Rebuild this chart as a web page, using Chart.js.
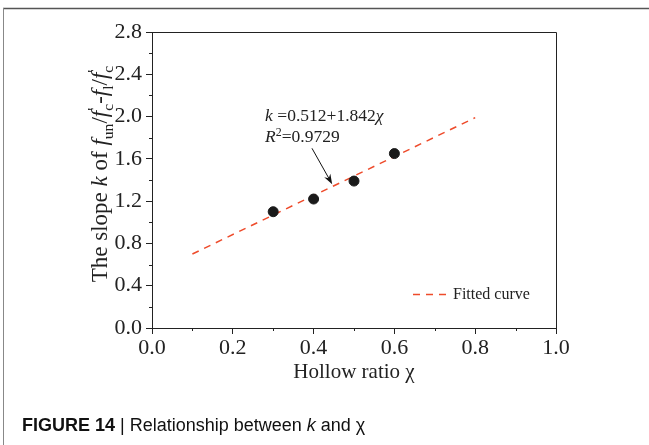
<!DOCTYPE html>
<html>
<head>
  <title>Relationship between k and hollow ratio</title>
  <script src="https://cdn.jsdelivr.net/npm/chart.js"></script>
  <style>
    body { margin: 0; background: #fff; }
    canvas { display: block; }
  </style>
</head>
<body>
  <canvas id="kChart" width="649" height="445"></canvas>

  <script>
    // measured points (hollow ratio vs slope k)
    const hollowRatio = [0.3, 0.4, 0.5, 0.6];
    const slopeK = [1.10, 1.22, 1.39, 1.65];

    // fitted line end points
    const fitX = [0.1, 0.8];
    const fitK = [0.70, 1.99];

    const xMin = 0, xMax = 1.0, xStep = 0.2;
    const yMin = 0, yMax = 2.8, yStep = 0.4;

    const legendLabel = "Fitted curve";
    const xTitle = "Hollow ratio \u03c7";
    const fitColor = "#ee4b2b";
    const serif = "'Liberation Serif', 'Times New Roman', serif";

    // mixed text helpers (italic / sub / sup parts); "keep" = don't advance x
    function segFont(s, size) {
      const sz = (s.sub || s.sup) ? size * 0.68 : size;
      return (s.it ? "italic " : "") + sz + "px " + serif;
    }

    function richWidth(ctx, segs, size) {
      let w = 0;
      segs.forEach(s => {
        ctx.font = segFont(s, size);
        if (!s.keep) w += ctx.measureText(s.t).width;
      });
      return w;
    }

    function drawRich(ctx, segs, x, y, size) {
      let cx = x;
      segs.forEach(s => {
        ctx.font = segFont(s, size);
        let dy = 0;
        if (s.sub) dy = size * 0.25;
        if (s.sup) dy = -size * 0.38;
        ctx.fillText(s.t, cx, y + dy);
        if (!s.keep) cx += ctx.measureText(s.t).width;
      });
    }

    const yTitleSegs = [
      { t: "The slope " }, { t: "k", it: true }, { t: " of " },
      { t: "f", it: true }, { t: "un", sub: true }, { t: "/" },
      { t: "f", it: true }, { t: "'", sup: true, keep: true }, { t: "c", sub: true }, { t: "-" },
      { t: "f", it: true }, { t: "l", sub: true }, { t: "/" },
      { t: "f", it: true }, { t: "'", sup: true, keep: true }, { t: "c", sub: true }
    ];
    const eqSegs = [
      { t: "k", it: true }, { t: " =0.512+1.842" }, { t: "\u03c7", it: true }
    ];
    const r2Segs = [
      { t: "R", it: true }, { t: "2", sup: true }, { t: "=0.9729" }
    ];

    const extras = {
      id: "extras",
      afterDraw(chart) {
        const ctx = chart.ctx;
        const a = chart.chartArea;
        const xs = chart.scales.x, ys = chart.scales.y;
        ctx.save();

        // figure frame (top and left rule)
        ctx.strokeStyle = "#555";
        ctx.lineWidth = 1.5;
        ctx.beginPath();
        ctx.moveTo(3, 8.5); ctx.lineTo(649, 8.5);
        ctx.stroke();
        ctx.lineWidth = 1;
        ctx.strokeStyle = "#888";
        ctx.beginPath();
        ctx.moveTo(3.5, 8); ctx.lineTo(3.5, 445);
        ctx.stroke();

        // top and right edges of the plot box
        ctx.strokeStyle = "#222";
        ctx.lineWidth = 1;
        ctx.beginPath();
        ctx.moveTo(a.left, a.top + 0.5); ctx.lineTo(a.right + 0.5, a.top + 0.5);
        ctx.lineTo(a.right + 0.5, a.bottom);
        ctx.stroke();

        // minor ticks
        ctx.beginPath();
        for (let v = xMin + xStep / 2; v < xMax; v += xStep) {
          const px = Math.round(xs.getPixelForValue(v)) + 0.5;
          ctx.moveTo(px, a.bottom); ctx.lineTo(px, a.bottom + 3);
        }
        for (let v = yMin + yStep / 2; v < yMax; v += yStep) {
          const py = Math.round(ys.getPixelForValue(v)) + 0.5;
          ctx.moveTo(a.left, py); ctx.lineTo(a.left - 3, py);
        }
        ctx.stroke();

        // axis titles
        ctx.fillStyle = "#222";
        ctx.textBaseline = "alphabetic";
        ctx.font = "21px " + serif;
        ctx.textAlign = "center";
        ctx.fillText(xTitle, (a.left + a.right) / 2, 378);

        ctx.textAlign = "left";
        ctx.save();
        ctx.translate(107, 174);
        ctx.rotate(-Math.PI / 2);
        const tw = richWidth(ctx, yTitleSegs, 23);
        drawRich(ctx, yTitleSegs, -tw / 2, 0, 23);
        ctx.restore();

        // equation annotation
        const ex = xs.getPixelForValue(0.28);
        drawRich(ctx, eqSegs, ex, ys.getPixelForValue(1.96), 17.5);
        drawRich(ctx, r2Segs, ex, ys.getPixelForValue(1.755), 17.5);

        // arrow to the fitted line
        const x1 = xs.getPixelForValue(0.396), y1 = ys.getPixelForValue(1.70);
        const x2 = xs.getPixelForValue(0.446), y2 = ys.getPixelForValue(1.36);
        const ang = Math.atan2(y2 - y1, x2 - x1);
        ctx.strokeStyle = "#111";
        ctx.lineWidth = 1;
        ctx.beginPath();
        ctx.moveTo(x1, y1); ctx.lineTo(x2 - 6 * Math.cos(ang), y2 - 6 * Math.sin(ang));
        ctx.stroke();
        ctx.fillStyle = "#111";
        ctx.beginPath();
        ctx.moveTo(x2, y2);
        ctx.lineTo(x2 - 10 * Math.cos(ang) + 3.5 * Math.sin(ang), y2 - 10 * Math.sin(ang) - 3.5 * Math.cos(ang));
        ctx.lineTo(x2 - 7 * Math.cos(ang), y2 - 7 * Math.sin(ang));
        ctx.lineTo(x2 - 10 * Math.cos(ang) - 3.5 * Math.sin(ang), y2 - 10 * Math.sin(ang) + 3.5 * Math.cos(ang));
        ctx.closePath();
        ctx.fill();

        // legend inside the plot
        const ly = 294.5;
        ctx.strokeStyle = fitColor;
        ctx.lineWidth = 1.5;
        ctx.setLineDash([7, 6]);
        ctx.beginPath();
        ctx.moveTo(413, ly); ctx.lineTo(449, ly);
        ctx.stroke();
        ctx.setLineDash([]);
        ctx.fillStyle = "#222";
        ctx.font = "16px " + serif;
        ctx.textBaseline = "middle";
        ctx.fillText(legendLabel, 453, ly);

        // caption
        ctx.textBaseline = "alphabetic";
        ctx.fillStyle = "#111";
        const sans = "'Liberation Sans', Arial, sans-serif";
        let cx = 22;
        const cy = 431;
        ctx.font = "bold 18px " + sans;
        ctx.fillText("FIGURE 14", cx, cy);
        cx += ctx.measureText("FIGURE 14").width;
        ctx.font = "18px " + sans;
        ctx.fillText(" | Relationship between ", cx, cy);
        cx += ctx.measureText(" | Relationship between ").width;
        ctx.font = "italic 18px " + sans;
        ctx.fillText("k", cx, cy);
        cx += ctx.measureText("k").width;
        ctx.font = "18px " + sans;
        ctx.fillText(" and \u03c7", cx, cy);

        ctx.restore();
      }
    };

    const chart = new Chart(document.getElementById("kChart"), {
      type: "scatter",
      data: {
        datasets: [
          {
            label: legendLabel,
            data: fitX.map((x, i) => ({ x, y: fitK[i] })),
            showLine: true,
            borderColor: fitColor,
            borderWidth: 1.5,
            borderDash: [7, 6],
            pointRadius: 0,
            order: 2
          },
          {
            label: "Test",
            data: hollowRatio.map((x, i) => ({ x, y: slopeK[i] })),
            pointRadius: 5,
            pointBackgroundColor: "#1a1a1a",
            pointBorderColor: "#1a1a1a",
            order: 1
          }
        ]
      },
      options: {
        responsive: false,
        animation: false,
        layout: { padding: { left: 0, top: 32, right: 93, bottom: 0 } },
        plugins: {
          legend: { display: false },
          tooltip: { enabled: false }
        },
        scales: {
          x: {
            type: "linear",
            min: xMin, max: xMax,
            afterFit(s) { s.height = 117; },
            border: { display: true, color: "#222", width: 1 },
            grid: { drawOnChartArea: false, tickLength: 6, color: "#222" },
            ticks: {
              stepSize: xStep,
              padding: 1,
              color: "#222",
              font: { family: serif, size: 22 },
              callback: v => v.toFixed(1)
            }
          },
          y: {
            min: yMin, max: yMax,
            afterFit(s) { s.width = 152; },
            border: { display: true, color: "#222", width: 1 },
            grid: { drawOnChartArea: false, tickLength: 6, color: "#222" },
            ticks: {
              stepSize: yStep,
              padding: 4,
              color: "#222",
              font: { family: serif, size: 22 },
              callback: v => v.toFixed(1)
            }
          }
        }
      },
      plugins: [extras]
    });
  </script>
</body>
</html>
